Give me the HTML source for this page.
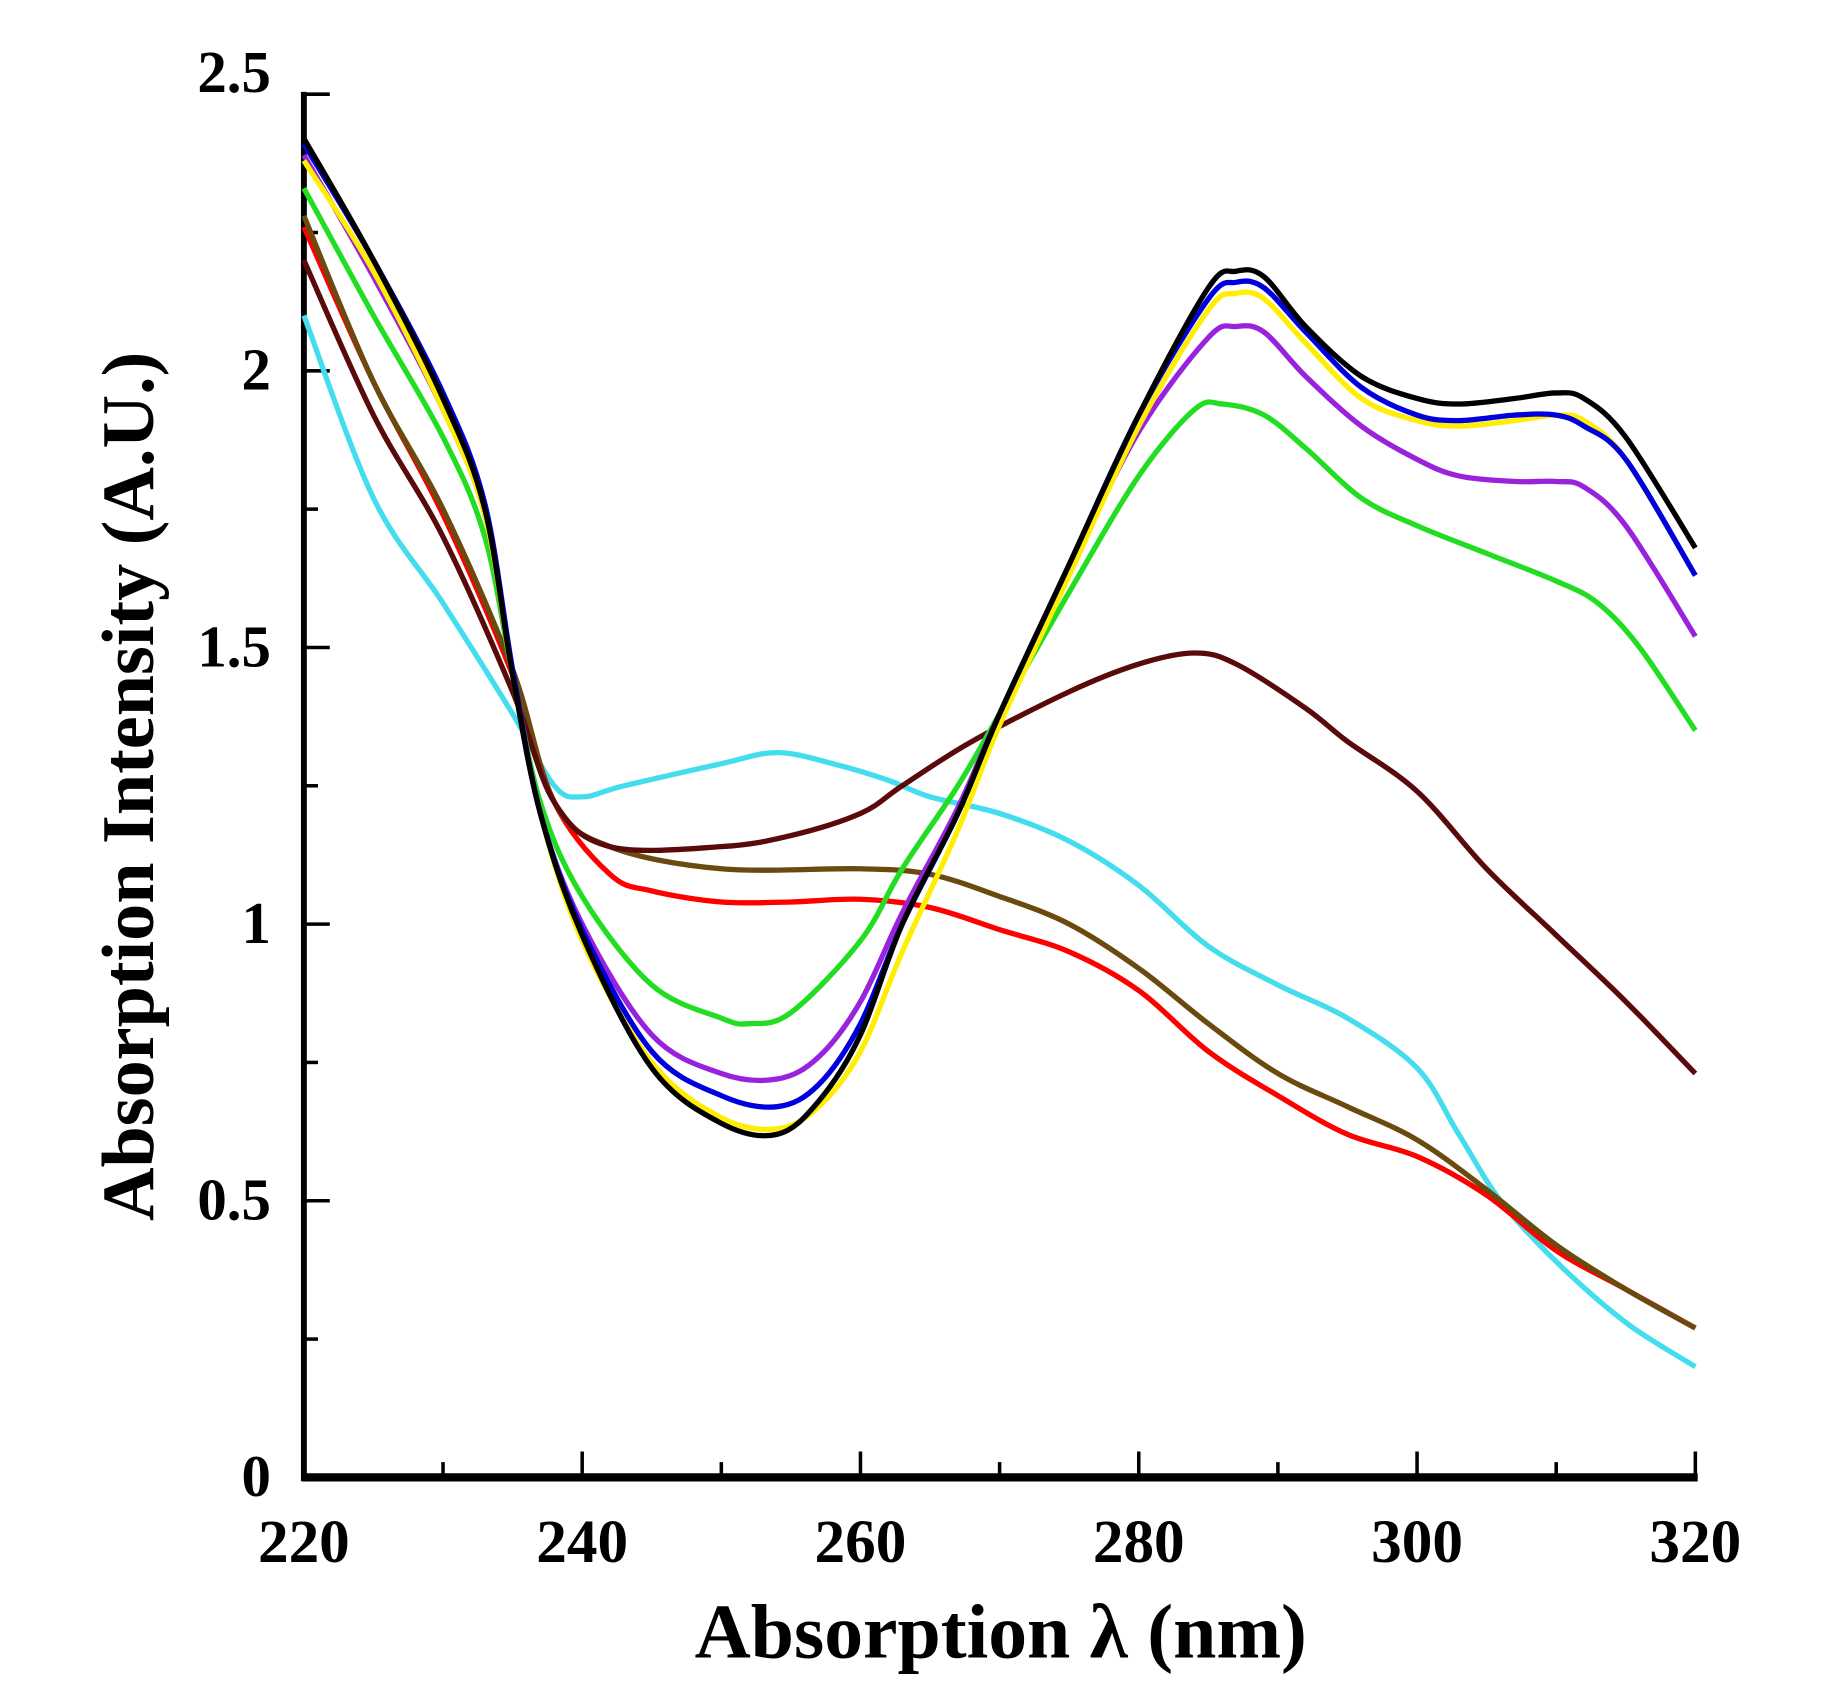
<!DOCTYPE html>
<html><head><meta charset="utf-8"><style>
html,body{margin:0;padding:0;background:#fff;}
svg{display:block;}
</style></head><body>
<svg id="chart" width="1825" height="1694" viewBox="0 0 1550 1439" xmlns="http://www.w3.org/2000/svg">
<g id="axes"></g>
<g id="series"></g>
<text x="850" y="1408" text-anchor="middle" font-family="Liberation Serif, serif" font-weight="bold" font-size="66">Absorption λ (nm)</text>
<text transform="translate(130,668) rotate(-90)" text-anchor="middle" font-family="Liberation Serif, serif" font-weight="bold" font-size="63">Absorption Intensity (A.U.)</text>
</svg>
<script>
const xTicks = [220,240,260,280,300,320];
const yTicks = [0,0.5,1,1.5,2,2.5];
const yTickLabels = ['0','0.5','1','1.5','2','2.5'];
const colors = ['#000000','#ffee00','#0000dd','#9922dd','#22dd22','#5a0a0a','#6b4a10','#ff0000','#44ddee'];
const names = ['black','yellow','blue','purple','green','dark-red','olive','red','cyan'];
const xBlack = [220,225,230,233,235,237,240,245,250,254,257,260,263,267,270,275,280,285,287,289,292,296,300,303,307,310,312,315,320];
const yBlack = [2.42,2.2,1.95,1.75,1.45,1.2,0.98,0.74,0.64,0.62,0.68,0.8,1.0,1.2,1.38,1.65,1.92,2.15,2.18,2.17,2.08,1.99,1.95,1.94,1.95,1.96,1.95,1.88,1.68];
const xYellow = [220,225,230,233,235,237,240,245,250,254,257,260,263,267,270,275,280,285,287,289,292,296,300,303,307,310,312,315,320];
const yYellow = [2.38,2.18,1.93,1.74,1.45,1.2,0.97,0.75,0.65,0.63,0.67,0.77,0.95,1.17,1.36,1.63,1.9,2.11,2.14,2.13,2.05,1.95,1.91,1.9,1.91,1.92,1.91,1.84,1.63];
const xBlue = [220,225,230,233,235,237,240,245,250,254,257,260,263,267,270,275,280,285,287,289,292,296,300,303,307,310,312,315,320];
const yBlue = [2.41,2.2,1.96,1.76,1.46,1.2,0.99,0.77,0.69,0.67,0.71,0.82,1.0,1.2,1.38,1.65,1.92,2.13,2.16,2.15,2.07,1.97,1.92,1.91,1.92,1.92,1.9,1.84,1.63];
const xPurple = [220,225,230,233,235,237,240,245,250,254,257,260,263,267,270,275,280,285,287,289,292,296,300,303,307,310,312,315,320];
const yPurple = [2.39,2.17,1.93,1.74,1.45,1.2,1.0,0.8,0.73,0.72,0.76,0.86,1.02,1.21,1.38,1.64,1.89,2.06,2.08,2.07,1.99,1.9,1.84,1.81,1.8,1.8,1.79,1.72,1.52];
const xGreen = [220,225,230,233,235,237,240,245,250,252,255,260,263,267,270,275,280,284,286,289,292,296,300,305,310,313,316,320];
const yGreen = [2.33,2.1,1.88,1.7,1.45,1.22,1.05,0.89,0.83,0.82,0.84,0.97,1.1,1.25,1.38,1.6,1.81,1.93,1.94,1.92,1.86,1.77,1.72,1.67,1.62,1.58,1.5,1.35];
const xDarkRed = [220,225,230,235,238,242,250,255,260,263,268,275,280,284,287,292,295,300,305,310,315,320];
const yDarkRed = [2.2,1.92,1.7,1.42,1.22,1.14,1.14,1.16,1.2,1.25,1.33,1.42,1.47,1.49,1.47,1.39,1.33,1.24,1.1,0.98,0.86,0.73];
const xOlive = [220,225,230,235,238,242,250,260,265,270,275,280,285,290,295,300,305,310,315,320];
const yOlive = [2.28,1.98,1.75,1.46,1.22,1.14,1.1,1.1,1.09,1.05,1.0,0.92,0.82,0.73,0.67,0.61,0.52,0.42,0.34,0.27];
const xRed = [220,225,230,235,238,242,245,250,255,260,265,270,275,280,285,290,295,300,305,310,315,320];
const yRed = [2.26,1.98,1.74,1.45,1.22,1.09,1.06,1.04,1.04,1.045,1.03,0.99,0.95,0.88,0.77,0.69,0.62,0.58,0.51,0.41,0.34,0.27];
const xCyan = [220,225,230,235,238,240,243,250,254,258,262,265,270,275,280,285,290,295,300,303,306,310,315,320];
const yCyan = [2.1,1.77,1.58,1.38,1.25,1.23,1.25,1.29,1.31,1.29,1.26,1.23,1.2,1.15,1.07,0.96,0.89,0.83,0.74,0.62,0.5,0.39,0.28,0.2];
const seriesX = [xBlack,xYellow,xBlue,xPurple,xGreen,xDarkRed,xOlive,xRed,xCyan];
const seriesY = [yBlack,yYellow,yBlue,yPurple,yGreen,yDarkRed,yOlive,yRed,yCyan];

const NS='http://www.w3.org/2000/svg';
const X0=258,X1=1440,Y0=1255,Y1=80;
const xs=v=>X0+(v-220)/(320-220)*(X1-X0);
const ys=v=>Y0-(v/2.5)*(Y0-Y1);
function mk(tag,attrs,parent){const e=document.createElementNS(NS,tag);for(const k in attrs)e.setAttribute(k,attrs[k]);parent.appendChild(e);return e;}
const axes=document.getElementById('axes');
let a=mk('line',{x1:X0,y1:Y1-2,x2:X0,y2:Y0+3,stroke:'#000','stroke-width':5},axes);


a=mk('line',{x1:X0-2,y1:Y0,x2:X1+2,y2:Y0,stroke:'#000','stroke-width':7},axes);


for(let v=220;v<=320;v+=10){
  const major=(v%20===0);
  const t=mk('line',{x1:xs(v),y1:Y0,x2:xs(v),y2:Y0-(major?22:13),stroke:'#000','stroke-width':3},axes);
  
  
}
xTicks.forEach(v=>{
  const t=mk('text',{x:xs(v),y:Y0+72,'text-anchor':'middle','font-family':'Liberation Serif, serif','font-weight':'bold','font-size':52},axes);
  t.textContent=v;
  
  
});
for(let v=0;v<=2.5001;v+=0.25){
  const major=Math.abs(v*2-Math.round(v*2))<1e-6;
  const t=mk('line',{x1:X0,y1:ys(v),x2:X0+(major?22:12),y2:ys(v),stroke:'#000','stroke-width':3},axes);
  
  
}
yTicks.forEach((v,i)=>{
  const t=mk('text',{x:X0-28,y:ys(v)+(i===yTicks.length-1?-2:16),'text-anchor':'end','font-family':'Liberation Serif, serif','font-weight':'bold','font-size':50},axes);
  t.textContent=yTickLabels[i];
  
  
});
function smooth(px,py){
  let d='M'+px[0]+','+py[0];
  for(let i=0;i<px.length-1;i++){
    const p0=i>0?i-1:i,p3=i+2<px.length?i+2:i+1;
    const c1x=px[i]+(px[i+1]-px[p0])/6,c1y=py[i]+(py[i+1]-py[p0])/6;
    const c2x=px[i+1]-(px[p3]-px[i])/6,c2y=py[i+1]-(py[p3]-py[i])/6;
    d+=' C'+c1x.toFixed(1)+','+c1y.toFixed(1)+' '+c2x.toFixed(1)+','+c2y.toFixed(1)+' '+px[i+1].toFixed(1)+','+py[i+1].toFixed(1);
  }
  return d;
}
const sg=document.getElementById('series');
const order=[8,7,6,5,4,3,1,2,0];
order.forEach(i=>{
  const px=seriesX[i].map(xs),py=seriesY[i].map(ys);
  const p=mk('path',{d:smooth(px,py),fill:'none',stroke:colors[i],'stroke-width':4.5,'stroke-linejoin':'round'},sg);
  
  
});
</script>
</body></html>
